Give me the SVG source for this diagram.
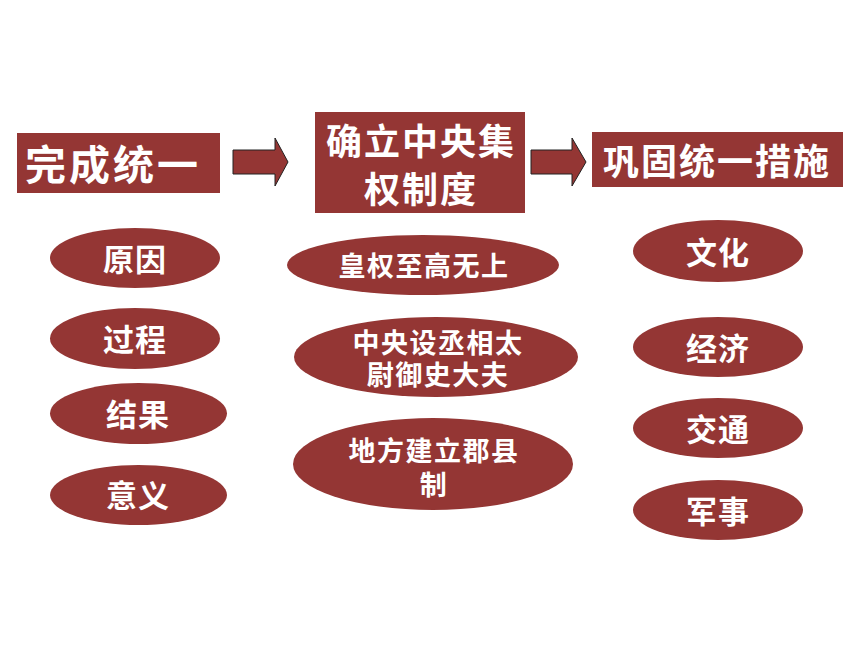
<svg xmlns="http://www.w3.org/2000/svg" width="860" height="645" viewBox="0 0 860 645">
<style>
.box{fill:#943634;}
.ell{fill:#943634;}
.arr{fill:#943634;stroke:#222;stroke-width:1;}
text{font-family:"Noto Sans CJK SC","Noto Sans",sans-serif;font-weight:bold;fill:#fff;text-anchor:middle;dominant-baseline:central;}
.h{font-size:41px;letter-spacing:3px;}
.h2{font-size:36px;letter-spacing:2px;}
.e{font-size:31px;letter-spacing:1px;}
.m{font-size:27px;letter-spacing:1.5px;}
</style>
<rect width="860" height="645" fill="#fff"/>
<g id="connectors">
<path class="arr" d="M233,150 H275 V138 L288,162 L275,186 V174 H233 Z"/>
<path class="arr" d="M531,150 H572 V138 L586,162 L572,186 V174 H531 Z"/>
</g>
<g id="n-wancheng"><rect class="box" x="17" y="133" width="203" height="60"/><text class="h" x="113" y="162">完成统一</text></g>
<g id="n-queli"><rect class="box" x="315" y="112" width="210" height="101"/><text class="h2" x="421" y="139"><tspan x="421" y="139">确立中央集</tspan><tspan x="421" y="187">权制度</tspan></text></g>
<g id="n-gonggu"><rect class="box" x="592" y="132" width="251" height="55"/><text class="h2" x="717" y="159">巩固统一措施</text></g>
<g id="n-yuanyin"><ellipse class="ell" cx="135" cy="258" rx="85" ry="30"/><text class="e" x="135" y="257">原因</text></g>
<g id="n-guocheng"><ellipse class="ell" cx="135" cy="338.5" rx="85" ry="30.5"/><text class="e" x="135" y="337">过程</text></g>
<g id="n-jieguo"><ellipse class="ell" cx="138.5" cy="413.5" rx="88.5" ry="30.5"/><text class="e" x="138" y="412">结果</text></g>
<g id="n-yiyi"><ellipse class="ell" cx="138.5" cy="495" rx="88.5" ry="30"/><text class="e" x="138" y="493">意义</text></g>
<g id="n-huangquan"><ellipse class="ell" cx="423" cy="265" rx="136" ry="30"/><text class="m" x="424" y="264">皇权至高无上</text></g>
<g id="n-zhongyang"><ellipse class="ell" cx="436" cy="357" rx="142" ry="40"/><text class="m" x="438" y="341"><tspan x="438" y="341">中央设丞相太</tspan><tspan x="438" y="373">尉御史大夫</tspan></text></g>
<g id="n-difang"><ellipse class="ell" cx="433" cy="464" rx="140" ry="46"/><text class="m" x="434" y="449"><tspan x="434" y="449">地方建立郡县</tspan><tspan x="434" y="483">制</tspan></text></g>
<g id="n-wenhua"><ellipse class="ell" cx="718" cy="251" rx="85" ry="31"/><text class="e" x="718" y="250">文化</text></g>
<g id="n-jingji"><ellipse class="ell" cx="718" cy="347" rx="85" ry="30"/><text class="e" x="718" y="346">经济</text></g>
<g id="n-jiaotong"><ellipse class="ell" cx="718" cy="428" rx="85" ry="30"/><text class="e" x="718" y="427">交通</text></g>
<g id="n-junshi"><ellipse class="ell" cx="718" cy="510" rx="85" ry="30"/><text class="e" x="718" y="509">军事</text></g>
</svg>
